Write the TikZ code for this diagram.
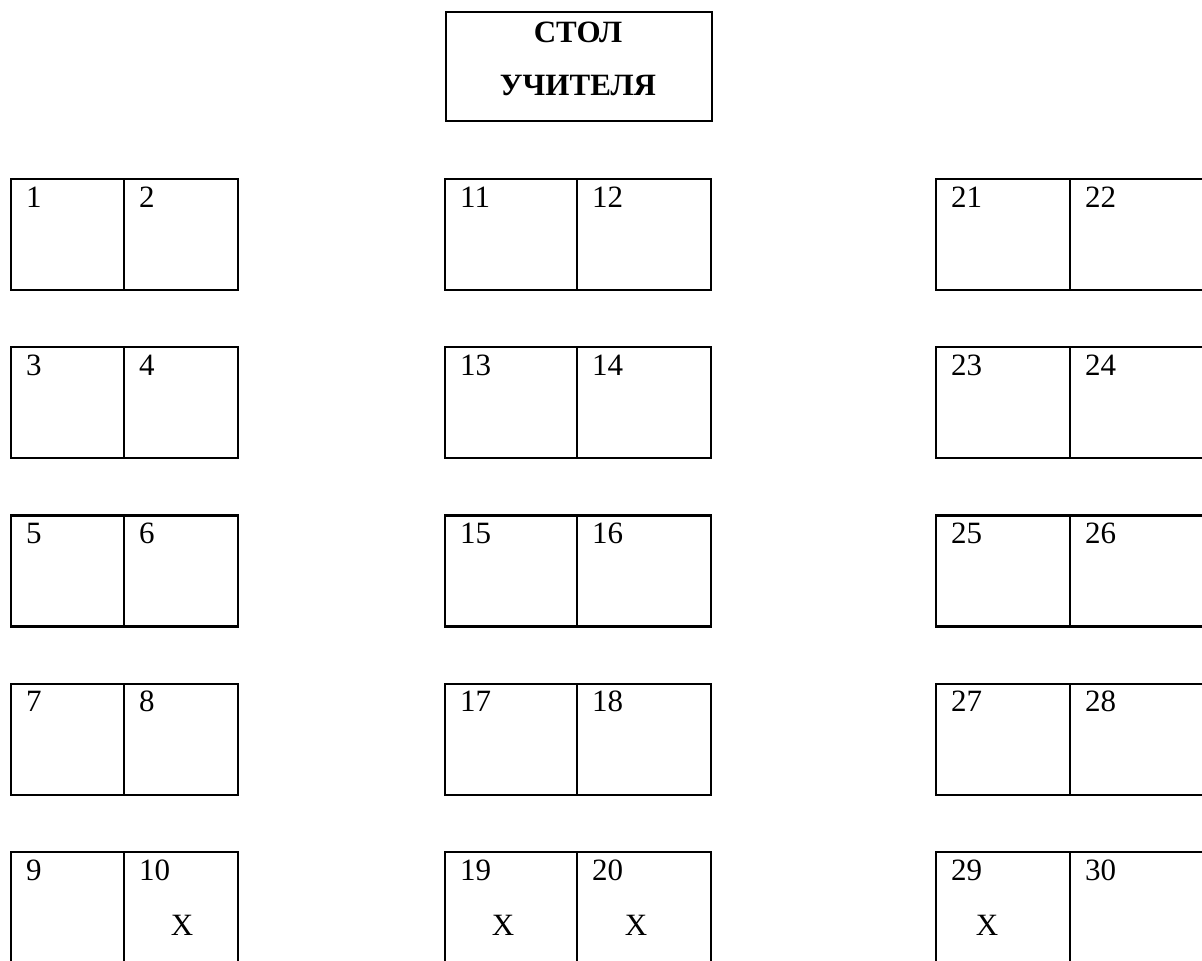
\documentclass[tikz,border=0pt]{standalone}
\usepackage{fontspec}
\setmainfont{Liberation Serif}
\begin{document}
\begin{tikzpicture}[x=1pt,y=-1pt,
  every node/.style={font=\fontsize{31pt}{36pt}\selectfont},
  seat/.style={draw, line width=2.4pt, inner sep=0pt, outer sep=0pt, anchor=north west, minimum height=111pt},
  num/.style={anchor=base west, inner sep=0pt},
  xmark/.style={anchor=base, inner sep=0pt},
  title/.style={anchor=base, inner sep=0pt, font=\fontsize{31pt}{36pt}\selectfont\bfseries}]
\useasboundingbox (0,0) rectangle (1202,961);
% teacher's desk
\node[draw, line width=2.4pt, inner sep=0pt, anchor=north west, minimum width=266pt, minimum height=109pt] (teacher) at (445,11) {};
\node[title] (t1) at (578,42) {СТОЛ};
\node[title] (t2) at (578,95) {УЧИТЕЛЯ};
% desks
\foreach \xa/\xb/\xc/\base in {11/124/238/0, 445/577/711/10, 936/1070/1204/20}{
  \foreach \r in {0,...,4}{
    \pgfmathsetmacro\yt{179+168.25*\r}
    \pgfmathtruncatemacro\na{\base+2*\r+1}
    \pgfmathtruncatemacro\nb{\base+2*\r+2}
    \pgfmathsetmacro\wa{\xb-\xa}
    \pgfmathsetmacro\wb{\xc-\xb}
    \node[seat, minimum width=\wa pt] (s\na) at (\xa,\yt) {};
    \node[seat, minimum width=\wb pt] (s\nb) at (\xb,\yt) {};
    \node[num] (l\na) at ([xshift=15pt,yshift=-28pt]s\na.north west) {\na};
    \node[num] (l\nb) at ([xshift=15pt,yshift=-28pt]s\nb.north west) {\nb};
  }
}
% marks
\node[xmark] (x10) at ([xshift=58pt,yshift=-83pt]s10.north west) {X};
\node[xmark] (x19) at ([xshift=58pt,yshift=-83pt]s19.north west) {X};
\node[xmark] (x20) at ([xshift=59pt,yshift=-83pt]s20.north west) {X};
\node[xmark] (x29) at ([xshift=51pt,yshift=-83pt]s29.north west) {X};
\end{tikzpicture}
\end{document}
